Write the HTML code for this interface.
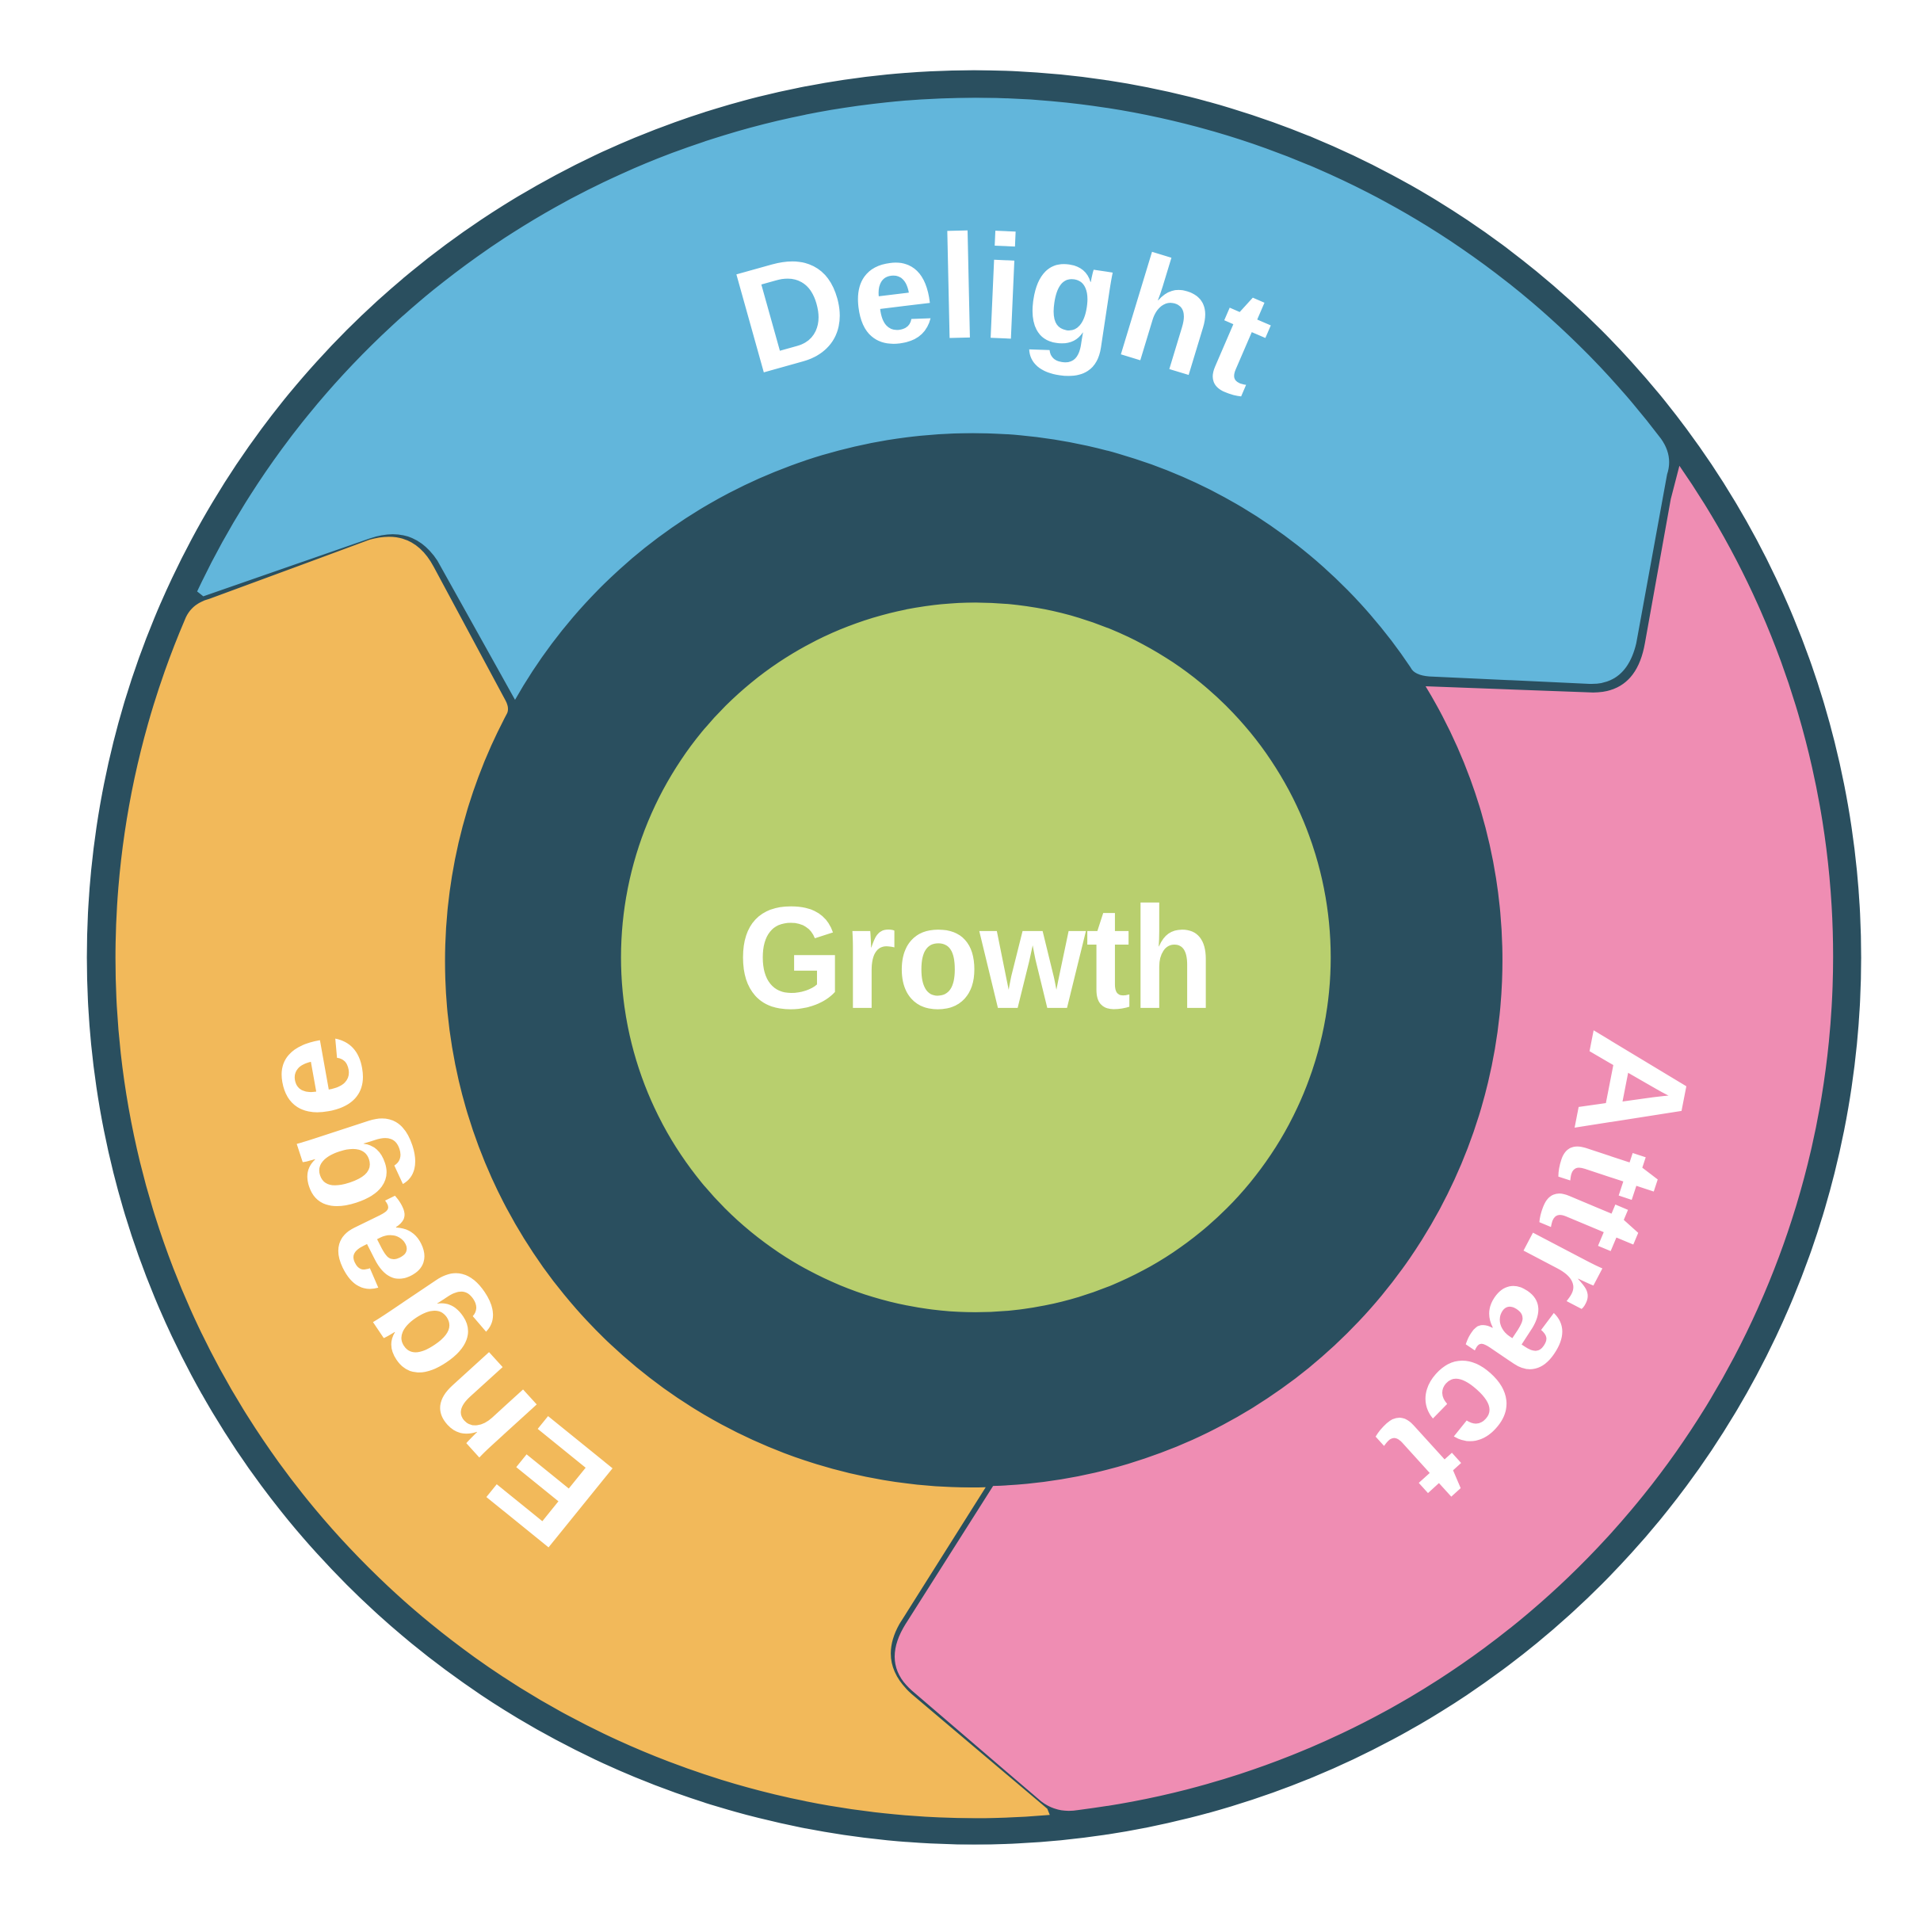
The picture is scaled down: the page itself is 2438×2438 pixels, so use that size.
<!DOCTYPE html>
<html><head><meta charset="utf-8"><style>
html,body{margin:0;padding:0;background:#fff;}
svg{display:block;}
</style></head><body>
<svg width="2438" height="2438" viewBox="0 0 1568 1568" xmlns="http://www.w3.org/2000/svg">
<defs>
<path id="ring" d="M 285,779 A 505 505 0 1 1 1295,779 A 505 505 0 1 1 285,779"/>
</defs>
<circle cx="790.5" cy="777" r="720" fill="#2a4f5f"/>
<path fill="#62b6db" d="M 160,480 A 698 698 0 0 1 1348,356 Q 1358,370 1353,385 L 1328,522 Q 1320,556 1290,555 L 1160,549 Q 1148,548 1145,542 A 427 427 0 0 0 418,568 L 355,455 Q 335,425 300,437 L 165,484 Z"/>
<path fill="#ef8db3" d="M 1363,378 A 698 698 0 0 1 875,1469 Q 858,1472 845,1462 L 740,1372 Q 715,1350 735,1318 L 806,1206 A 427 427 0 0 0 1157,557 L 1293,562 Q 1328,562 1335,522 L 1356,405 Z"/>
<path fill="#f2b95a" d="M 852,1473 A 698 698 0 0 1 150,503 Q 155,490 170,486 L 300,438 Q 335,428 352,460 L 410,568 Q 414,575 411,580 A 427 427 0 0 0 800,1207 L 730,1318 Q 712,1350 740,1375 L 850,1468 Z"/>
<circle cx="792" cy="777" r="288" fill="#b8cf6e"/>
<text x="792" y="818" text-anchor="middle" font-family="Liberation Sans, sans-serif" font-weight="bold" font-size="118" fill="#fff" textLength="387" lengthAdjust="spacingAndGlyphs">Growth</text>
<g font-family="Liberation Sans, sans-serif" font-weight="bold" font-size="120" fill="#fff" text-anchor="middle">
<text><textPath href="#ring" startOffset="25.7%">Delight</textPath></text>
<text><textPath href="#ring" startOffset="57.8%">Attract</textPath></text>
<text><textPath href="#ring" startOffset="91.4%">Engage</textPath></text>
</g>
</svg>
</body></html>
